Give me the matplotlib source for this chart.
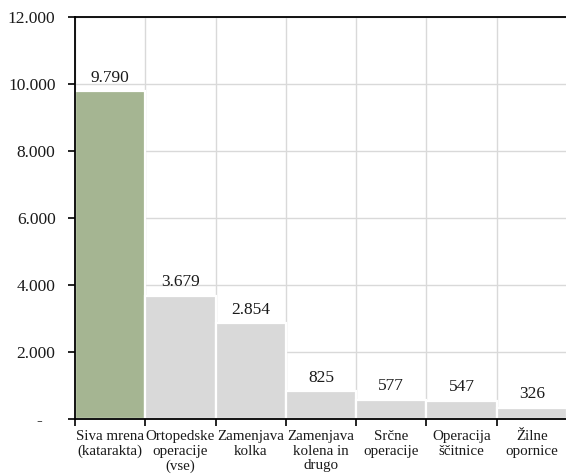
import matplotlib

matplotlib.use("Agg")
import matplotlib.pyplot as plt  # noqa: E402
from matplotlib.ticker import FuncFormatter  # noqa: E402

# Stevilo posegov po vrsti operacije
kategorije = [
    "Siva mrena\n(katarakta)",
    "Ortopedske\noperacije\n(vse)",
    "Zamenjava\nkolka",
    "Zamenjava\nkolena in\ndrugo",
    "Srčne\noperacije",
    "Operacija\nščitnice",
    "Žilne\nopornice",
]
vrednosti = [9790, 3679, 2854, 825, 577, 547, 326]
barve = ["#a5b592"] + ["#d9d9d9"] * 6

plt.rcParams["font.family"] = ["Liberation Serif", "DejaVu Serif"]


def fmt_tisoc(v, _pos=None):
    """Stevila s piko kot locilom tisocic, nic kot '-'."""
    if v == 0:
        return "-   "
    return f"{int(round(v)):,}".replace(",", ".")


fig = plt.figure(figsize=(5.66, 4.75), dpi=100)
ax = fig.add_axes([0.1325, 0.118, 0.869, 0.846])

pos = list(range(len(kategorije)))
ax.bar(pos, vrednosti, width=1.0, color=barve, edgecolor="white",
       linewidth=1.6, zorder=2)

for x, v in zip(pos, vrednosti):
    ax.annotate(fmt_tisoc(v), (x, v), xytext=(0, 4), textcoords="offset points",
                ha="center", va="bottom", fontsize=12.5, color="#1a1a1a", zorder=3)

ax.set_xlim(-0.5, len(kategorije) - 0.5)
ax.set_ylim(0, 12000)
ax.set_yticks(range(0, 12001, 2000))
ax.yaxis.set_major_formatter(FuncFormatter(fmt_tisoc))

# kategorije na sredini, kljukice na mejah stolpcev
ax.set_xticks(pos)
ax.set_xticklabels(kategorije, fontsize=10.8, linespacing=1.15)
ax.set_xticks([p - 0.5 for p in pos] + [len(pos) - 0.5], minor=True)
ax.tick_params(axis="x", which="major", length=0, pad=8, colors="#1a1a1a")
ax.tick_params(axis="x", which="minor", length=5, width=1.2, direction="out")
ax.tick_params(axis="y", length=5, width=1.2, direction="out", pad=9,
               labelsize=12.5, labelcolor="#1a1a1a")

ax.grid(True, which="major", axis="y", color="#d9d9d9", linewidth=1.0, zorder=0)
ax.grid(True, which="minor", axis="x", color="#d9d9d9", linewidth=1.0, zorder=0)
ax.set_axisbelow(True)

for side in ("left", "top", "bottom"):
    ax.spines[side].set_color("black")
    ax.spines[side].set_linewidth(1.3)
ax.spines["right"].set_visible(False)

fig.savefig("out.png", dpi=100)
